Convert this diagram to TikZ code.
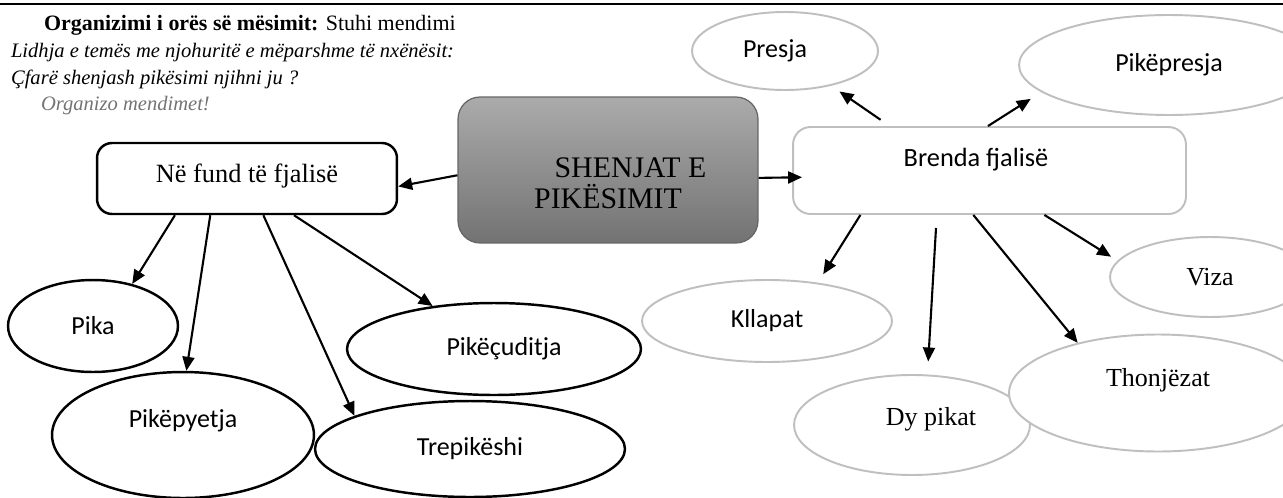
\documentclass[tikz,border=0pt]{standalone}
\usepackage{fontspec}
\setmainfont{Liberation Serif}
\newfontfamily\calibri{Carlito}
\usetikzlibrary{shapes.geometric,arrows.meta}
\begin{document}
\begin{tikzpicture}[x=0.02cm, y=-0.02cm, >={Triangle[length=0.28cm,width=0.24cm]}, line width=1.2pt,
  head/.style={anchor=base west, inner sep=0pt, font=\fontsize{11.7}{14}\selectfont},
  blackell/.style={ellipse, draw=black, line width=1.4pt, fill=white, inner sep=0pt, font=\calibri\fontsize{14.8}{17}\selectfont},
  grayell/.style={ellipse, draw=black!25, line width=1.1pt, fill=white, inner sep=0pt, font=\calibri\fontsize{14.8}{17}\selectfont},
  serifell/.style={grayell, font=\fontsize{14.8}{17}\selectfont}]
\useasboundingbox (0,0) rectangle (1283,497);
\draw[line width=1.1pt] (0,4) -- (1283,4);
\node[head, font=\fontsize{12.5}{14}\selectfont] (l1) at (43,31) {\textbf{Organizimi i orës së mësimit:} Stuhi mendimi};
\node[head] (l2) at (10,57) {\itshape Lidhja e temës me njohuritë e mëparshme të nxënësit:};
\node[head] (l3) at (10,84) {\itshape Çfarë shenjash pikësimi njihni ju ?};
\node[head, text=black!55] (l4) at (40,110) {\itshape Organizo mendimet!};
\node[draw=black!60, line width=0.7pt, rounded corners=0.44cm, top color=black!33, bottom color=black!55,
  minimum width=6cm, inner ysep=0pt, text height=2.24cm, text depth=0.68cm, align=center,
  font=\fontsize{17}{18.1}\selectfont] (title) at (608,170) {\hspace*{0.9cm}SHENJAT E\\PIKËSIMIT};
\node[draw, line width=1.4pt, rounded corners=0.3cm, minimum width=6cm, inner ysep=0pt,
  text height=0.78cm, text depth=0.64cm, font=\fontsize{15}{18}\selectfont] (fund) at (247,178.5) {Në fund të fjalisë};
\node[draw=black!25, line width=1.1pt, rounded corners=0.35cm, minimum width=7.86cm, inner ysep=0pt,
  text height=0.79cm, text depth=0.95cm, font=\calibri\fontsize{15}{18}\selectfont] (brenda) at (989.5,170.5) {Brenda fjalisë\hspace*{0.54cm}};
\node[blackell, minimum width=3.4cm, minimum height=1.84cm] (pika) at (93,326) {Pika};
\node[blackell, minimum width=5.24cm, minimum height=2.52cm, text height=0.36cm, text depth=0.66cm] (pyetja) at (183,435) {Pikëpyetja};
\node[blackell, minimum width=5.88cm, minimum height=1.84cm] (cuditja) at (494,349) {\hspace*{0.4cm}Pikëçuditja};
\node[blackell, minimum width=6.2cm, minimum height=1.92cm] (tre) at (470,449) {Trepikëshi};
\node[grayell, minimum width=3.72cm, minimum height=1.56cm] (presja) at (785,51) {Presja\hspace*{0.4cm}};
\node[grayell, minimum width=6cm, minimum height=2cm] (pikepresja) at (1169,65) {Pikëpresja};
\node[serifell, minimum width=4cm, minimum height=1.6cm] (viza) at (1210,277) {Viza};
\node[grayell, minimum width=5cm, minimum height=1.64cm] (kllapat) at (767,321) {Kllapat};
\node[serifell, minimum width=4.72cm, minimum height=2cm, text height=0.36cm, text depth=0.36cm] (dypikat) at (912,425) {\hspace*{0.76cm}Dy pikat};
\node[serifell, minimum width=5.96cm, minimum height=2.34cm, text height=0.36cm, text depth=0.62cm] (thonjezat) at (1158,393) {Thonjëzat};
\coordinate (dytail) at (936,228);
\draw[->] (title.-178) -- (fund.-3);
\draw[->, shorten >=-0.2cm] (title.-3) -- (brenda.-178);
\draw[->, shorten <=0.22cm, shorten >=0.2cm] (brenda.156) -- (presja.-37);
\draw[->, shorten >=0.25cm] (brenda.92) -- (pikepresja.-168);
\draw[->, shorten >=0.2cm] (brenda.-161) -- (kllapat.37);
\draw[->, shorten >=0.26cm] (dytail) -- (dypikat.73);
\draw[->] (brenda.-110) -- (thonjezat.148);
\draw[->, shorten >=0.15cm] (brenda.-39) -- (viza.170);
\draw[->] (fund.-153) -- (pika.47);
\draw[->] (fund.-135) -- (pyetja.87);
\draw[->] (fund.-66) -- (tre.164);
\draw[->] (fund.-38) -- (cuditja.145);
\end{tikzpicture}
\end{document}
